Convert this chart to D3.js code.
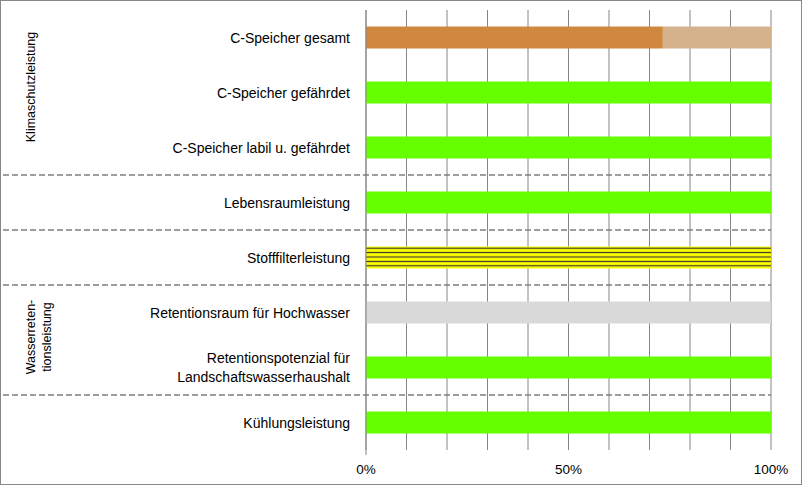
<!DOCTYPE html>
<html><head><meta charset="utf-8">
<script src="https://cdn.jsdelivr.net/npm/d3@7"></script>
<style>body{margin:0;background:#fff}text{font-family:"Liberation Sans",Arial,sans-serif}</style>
</head><body>
<svg width="803" height="486"></svg>
<script>
// categories, top to bottom
var categories = ["C-Speicher gesamt", "C-Speicher gefährdet", "C-Speicher labil u. gefährdet",
  "Lebensraumleistung", "Stofffilterleistung", "Retentionsraum für Hochwasser",
  "Retentionspotenzial für|Landschaftswasserhaushalt", "Kühlungsleistung"];
// share per segment (percent), with segment colour keys
var segA = [73.3, 100, 100, 100, 100, 100, 100, 100];
var segB = [26.7, 0, 0, 0, 0, 0, 0, 0];
var colA = ["#d0873f", "#66ff00", "#66ff00", "#66ff00", "hatch", "#d9d9d9", "#66ff00", "#66ff00"];
var colB = ["#d4b28c"];
var ticks = [0, 50, 100];
var separators = [3, 4, 5, 7]; // dashed lines above these rows

var svg = d3.select("svg");
svg.append("rect").attr("x", 0.5).attr("y", 0.5).attr("width", 801).attr("height", 484)
  .attr("fill", "#fff").attr("stroke", "#888");

var defs = svg.append("defs");
var pat = defs.append("pattern").attr("id", "hatch").attr("patternUnits", "userSpaceOnUse")
  .attr("width", 8).attr("height", 4.4).attr("y", 246);
pat.append("rect").attr("width", 8).attr("height", 4.4).attr("fill", "#ffff00");
pat.append("line").attr("x1", 0).attr("x2", 8).attr("y1", 2.2).attr("y2", 2.2)
  .attr("stroke", "#333").attr("stroke-width", 1.2);

var x = d3.scaleLinear().domain([0, 100]).range([366, 771]);
var y = d3.scaleBand().domain(categories).range([10, 450]).paddingInner(0.6).paddingOuter(0.3);
var band = d3.scaleBand().domain(categories).range([10, 450]);

// gridlines
svg.selectAll("line.grid").data(d3.range(0, 101, 10)).join("line")
  .attr("x1", d => x(d)).attr("x2", d => x(d)).attr("y1", 10).attr("y2", 450)
  .attr("stroke", "#868686").attr("stroke-width", 1);

svg.selectAll("rect.a").data(categories).join("rect")
  .attr("x", x(0)).attr("y", d => y(d)).attr("height", y.bandwidth())
  .attr("width", (d, i) => x(segA[i]) - x(0))
  .attr("fill", (d, i) => colA[i] == "hatch" ? "url(#hatch)" : colA[i]);
svg.selectAll("rect.b").data(categories.filter((d, i) => segB[i] > 0)).join("rect")
  .attr("x", x(segA[0])).attr("y", d => y(d)).attr("height", y.bandwidth())
  .attr("width", x(segA[0] + segB[0]) - x(segA[0])).attr("fill", colB[0]);

// axis line
svg.append("line").attr("x1", x(0)).attr("x2", x(0)).attr("y1", 10).attr("y2", 455).attr("stroke", "#868686");

svg.selectAll("text.tick").data(ticks).join("text")
  .attr("x", d => x(d)).attr("y", 474).attr("text-anchor", "middle")
  .attr("font-size", 13.5).attr("fill", "#000").text(d => d + "%");

// category labels
categories.forEach(function(c) {
  var lines = c.split("|");
  var cy = band(c) + band.bandwidth() / 2;
  lines.forEach(function(l, j) {
    svg.append("text").attr("x", 350).attr("y", cy + 5 + (j - (lines.length - 1) / 2) * 19)
      .attr("text-anchor", "end").attr("font-size", 14).text(l);
  });
});

// dashed separators
svg.selectAll("line.sep").data(separators).join("line")
  .attr("x1", 3).attr("x2", 771).attr("y1", d => band(categories[d])).attr("y2", d => band(categories[d]))
  .attr("stroke", "#7f7f7f").attr("stroke-width", 1.5).attr("stroke-dasharray", "6,3");

// group labels
svg.append("text").attr("transform", "translate(35,87) rotate(-90)").attr("text-anchor", "middle")
  .attr("font-size", 12.5).text("Klimaschutzleistung");
svg.append("text").attr("transform", "translate(35,337) rotate(-90)").attr("text-anchor", "middle")
  .attr("font-size", 12.5).text("Wasserreten-");
svg.append("text").attr("transform", "translate(51,337) rotate(-90)").attr("text-anchor", "middle")
  .attr("font-size", 12.5).text("tionsleistung");
</script>
</body></html>
